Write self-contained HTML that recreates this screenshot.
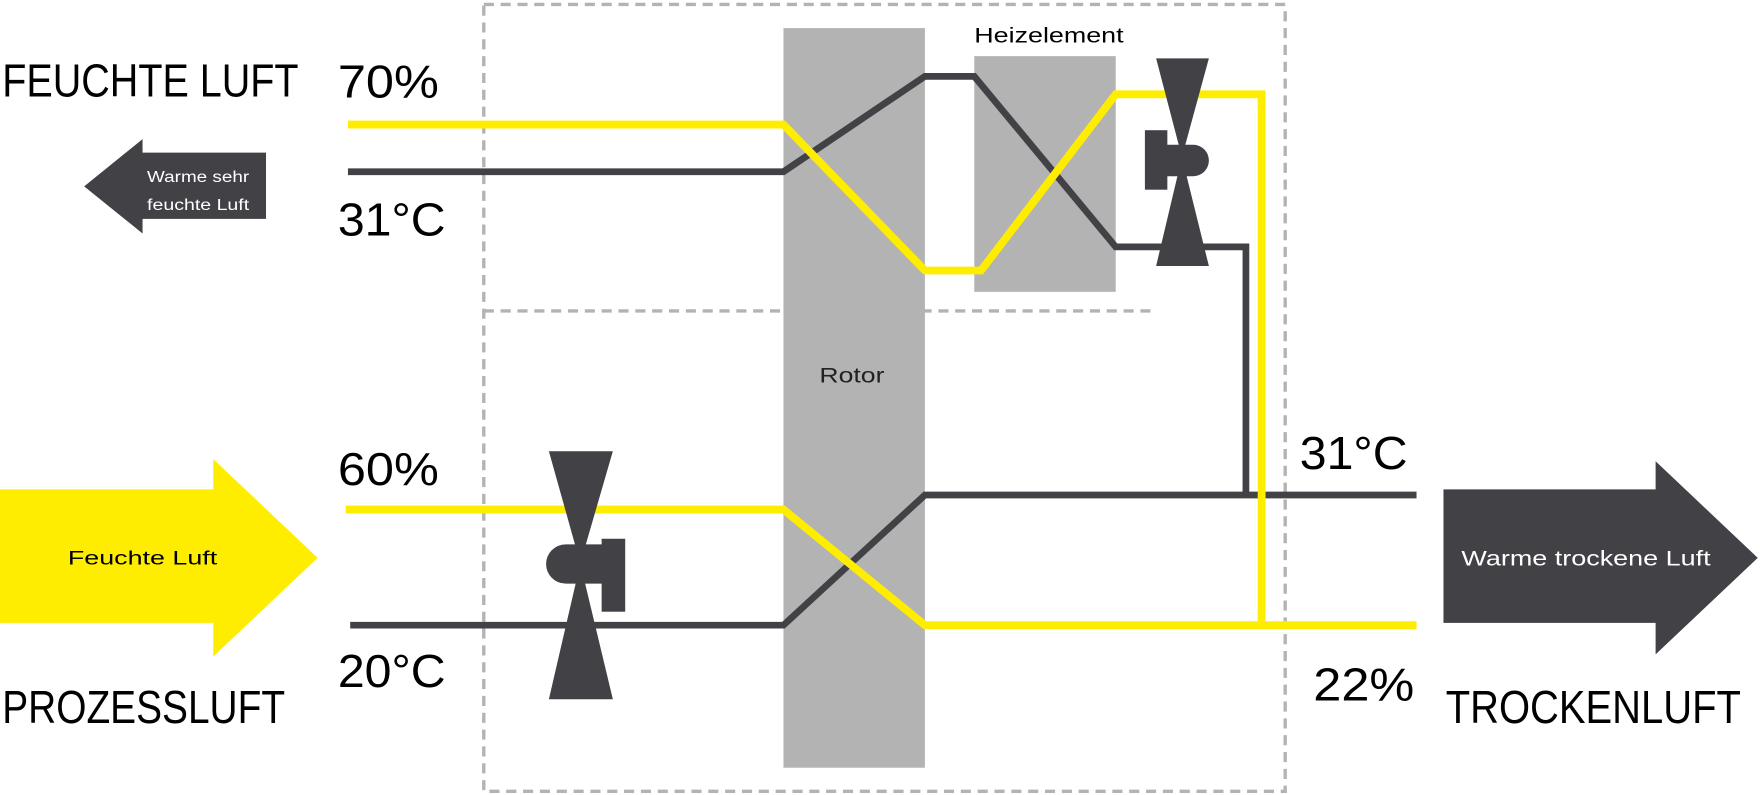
<!DOCTYPE html>
<html><head><meta charset="utf-8"><style>
html,body{margin:0;padding:0;background:#fff;}
svg{display:block;}
text{font-family:"Liberation Sans",sans-serif;}
</style></head><body>
<svg width="1760" height="795" viewBox="0 0 1568 708.3" preserveAspectRatio="none" xmlns="http://www.w3.org/2000/svg">
<rect width="1568" height="709" fill="#fff"/>
<!-- dashed boxes -->
<g stroke="#b3b3b3" stroke-width="3" stroke-dasharray="9,6" fill="none">
<rect x="431" y="4" width="714" height="701"/>
<line x1="431" y1="277" x2="1025" y2="277"/>
</g>
<!-- rotor & heater -->
<rect x="698" y="25" width="126" height="659" fill="#b3b3b3"/>
<rect x="868" y="50" width="126" height="210" fill="#b3b3b3"/>
<text x="868" y="38" font-size="19" fill="#000" textLength="133" lengthAdjust="spacingAndGlyphs">Heizelement</text>
<text x="730" y="341" font-size="19" fill="#222" textLength="58" lengthAdjust="spacingAndGlyphs">Rotor</text>
<!-- lines -->
<g fill="none" stroke-linejoin="miter">
<polyline points="310,153 698,153 824,68 868,68 994,220 1110,220 1110,441" stroke="#414146" stroke-width="6"/>
<polyline points="312,557 698,557 824,441 1262,441" stroke="#414146" stroke-width="6"/>
<polyline points="310,111 698,111 824,241 874,241 994,84 1124,84 1124,557" stroke="#ffed00" stroke-width="7"/>
<polyline points="308,454 698,454 824,557 1262,557" stroke="#ffed00" stroke-width="7"/>
</g>
<!-- top fan -->
<g fill="#414146">
<polygon points="1030,52 1077,52 1053,140 1077,237 1030,237 1053,140"/>
<rect x="1020" y="116" width="20" height="53"/>
<path d="M1038,129 H1063 A14,14 0 0 1 1063,157 H1038 Z"/>
</g>
<!-- bottom fan -->
<g fill="#414146">
<polygon points="489,402 546,402 517,502 546,623 489,623 517,502"/>
<rect x="536" y="480" width="21" height="65"/>
<path d="M538,485 H504 A17,17 0 0 0 504,520 H538 Z"/>
</g>
<!-- arrows -->
<polygon points="0,436 190,436 190,409 283,497 190,585 190,555 0,555" fill="#ffed00"/>
<text x="127" y="503" font-size="17" fill="#000" text-anchor="middle" textLength="133" lengthAdjust="spacingAndGlyphs">Feuchte Luft</text>
<polygon points="237,136 127,136 127,124 75,166 127,208 127,195 237,195" fill="#414146"/>
<text x="131" y="162" font-size="14" fill="#fff" textLength="91" lengthAdjust="spacingAndGlyphs">Warme sehr</text>
<text x="131" y="187" font-size="14" fill="#fff" textLength="91" lengthAdjust="spacingAndGlyphs">feuchte Luft</text>
<polygon points="1286,436 1475,436 1475,411 1566,497 1475,583 1475,555 1286,555" fill="#414146"/>
<text x="1302" y="504" font-size="19" fill="#fff" textLength="222" lengthAdjust="spacingAndGlyphs">Warme trockene Luft</text>
<!-- labels -->
<g font-size="41" fill="#000">
<text x="2" y="86" textLength="264" lengthAdjust="spacingAndGlyphs">FEUCHTE LUFT</text>
<text x="301" y="87" textLength="90" lengthAdjust="spacingAndGlyphs">70%</text>
<text x="301" y="210" textLength="96" lengthAdjust="spacingAndGlyphs">31°C</text>
<text x="301" y="432" textLength="90" lengthAdjust="spacingAndGlyphs">60%</text>
<text x="301" y="612" textLength="96" lengthAdjust="spacingAndGlyphs">20°C</text>
<text x="2" y="644" textLength="252" lengthAdjust="spacingAndGlyphs">PROZESSLUFT</text>
<text x="1158" y="418" textLength="96" lengthAdjust="spacingAndGlyphs">31°C</text>
<text x="1170" y="624" textLength="90" lengthAdjust="spacingAndGlyphs">22%</text>
<text x="1288" y="644" textLength="263" lengthAdjust="spacingAndGlyphs">TROCKENLUFT</text>
</g>
</svg>
</body></html>
